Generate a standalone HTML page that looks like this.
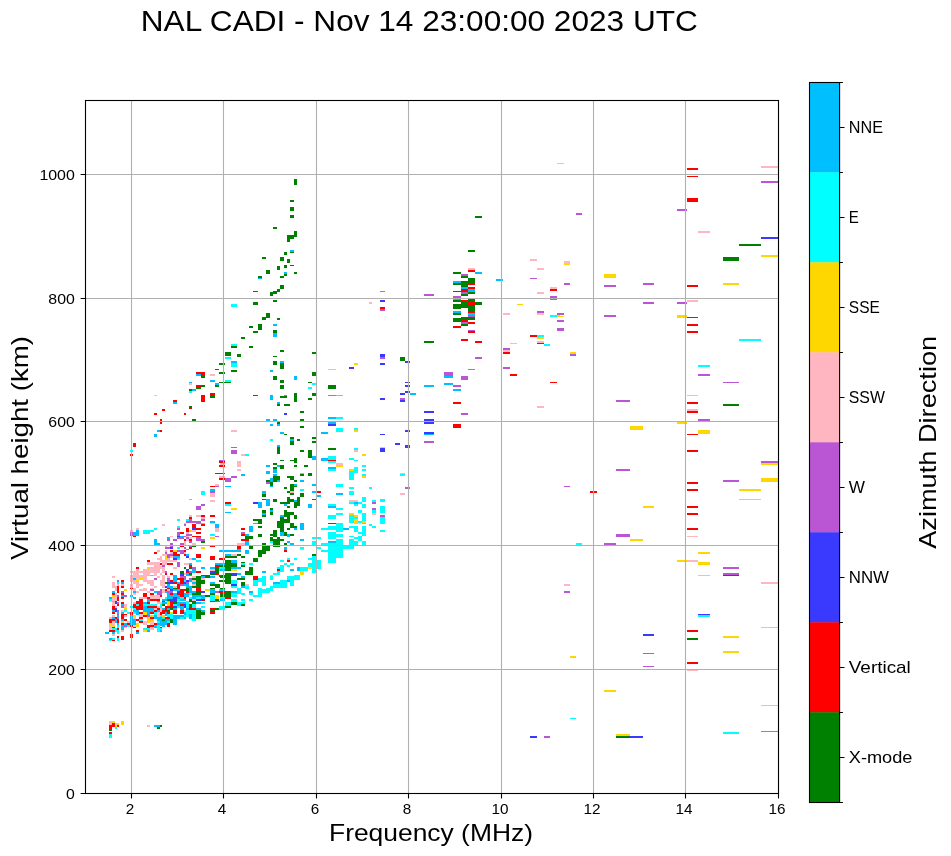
<!DOCTYPE html>
<html><head><meta charset="utf-8"><title>NAL CADI ionogram</title>
<style>
html,body{margin:0;padding:0;background:#fff;}
body{width:951px;height:856px;overflow:hidden;}
svg{display:block;will-change:transform;}
text{font-family:"Liberation Sans",sans-serif;fill:#000;}
</style></head><body>
<svg width="951" height="856" viewBox="0 0 951 856">
<rect x="0" y="0" width="951" height="856" fill="#fff"/>
<g shape-rendering="crispEdges">
<path fill="#00ffff" d="M231 304h6v3h-6zM550 315h7v2h-7zM537 335h7v2h-7zM739 339h22v2h-22zM231 344h6v2h-6zM544 344h6v2h-6zM225 357h6v2h-6zM231 363h6v4h-6zM698 365h12v2h-12zM225 380h6v2h-6zM312 383h4v2h-4zM308 387h4v2h-4zM189 391h3v2h-3zM336 395h7v1h-7zM336 417h7v2h-7zM354 428h4v2h-4zM336 428h7v4h-7zM270 439h3v2h-3zM354 448h4v2h-4zM130 450h3v2h-3zM245 454h4v2h-4zM328 456h8v4h-8zM349 458h5v2h-5zM354 460h4v1h-4zM328 461h8v2h-8zM362 465h4v2h-4zM354 467h4v4h-4zM328 469h8v2h-8zM362 469h4v2h-4zM349 471h9v2h-9zM300 473h4v1h-4zM362 474h4v2h-4zM400 474h5v2h-5zM349 473h5v7h-5zM336 484h7v3h-7zM369 487h3v2h-3zM349 487h5v2h-5zM300 489h4v2h-4zM201 491h4v4h-4zM349 491h5v4h-5zM189 499h3v1h-3zM362 497h4v5h-4zM380 499h5v3h-5zM372 500h4v2h-4zM358 502h4v2h-4zM349 502h5v2h-5zM328 504h8v2h-8zM354 504h4v2h-4zM225 504h6v2h-6zM362 504h4v4h-4zM336 508h7v2h-7zM380 506h5v7h-5zM372 510h4v3h-4zM358 510h4v3h-4zM336 513h7v2h-7zM349 515h5v2h-5zM328 515h8v4h-8zM349 517h9v2h-9zM362 513h4v8h-4zM177 519h3v2h-3zM186 519h3v2h-3zM349 519h5v4h-5zM358 521h4v2h-4zM380 517h5v7h-5zM201 523h4v1h-4zM362 523h4v1h-4zM336 523h7v3h-7zM369 524h3v2h-3zM372 526h4v2h-4zM328 526h15v2h-15zM177 526h3v2h-3zM349 526h9v2h-9zM321 528h22v2h-22zM154 528h3v2h-3zM362 526h4v6h-4zM354 528h4v4h-4zM380 530h5v2h-5zM336 530h7v2h-7zM143 530h11v2h-11zM328 532h8v2h-8zM358 532h8v2h-8zM143 532h7v2h-7zM210 534h5v2h-5zM362 534h4v2h-4zM328 534h15v3h-15zM349 536h5v1h-5zM358 536h4v1h-4zM328 537h8v2h-8zM312 537h4v2h-4zM354 537h8v2h-8zM317 537h4v2h-4zM358 539h4v2h-4zM349 539h5v2h-5zM336 539h7v4h-7zM270 541h3v2h-3zM312 541h4v4h-4zM362 541h4v4h-4zM349 541h9v4h-9zM321 543h22v2h-22zM576 543h6v2h-6zM328 546h26v3h-26zM177 547h3v2h-3zM300 547h4v2h-4zM317 547h4v2h-4zM328 549h15v1h-15zM321 550h22v2h-22zM328 552h15v6h-15zM312 556h4v2h-4zM308 558h8v2h-8zM177 558h3v2h-3zM287 558h3v2h-3zM294 558h3v2h-3zM196 560h5v2h-5zM280 560h4v2h-4zM328 558h8v5h-8zM312 560h4v3h-4zM249 563h4v2h-4zM241 563h4v2h-4zM290 563h4v2h-4zM284 563h3v2h-3zM308 563h8v4h-8zM280 565h4v2h-4zM287 565h3v2h-3zM317 560h4v9h-4zM277 567h7v2h-7zM219 567h6v2h-6zM300 567h8v4h-8zM219 569h1v2h-1zM280 569h4v2h-4zM277 571h7v1h-7zM312 567h4v6h-4zM277 572h3v1h-3zM273 573h7v2h-7zM150 575h4v1h-4zM294 575h6v1h-6zM262 576h4v2h-4zM270 576h3v4h-3zM287 576h13v4h-13zM258 578h8v2h-8zM253 580h13v2h-13zM184 580h2v2h-2zM280 580h7v4h-7zM231 580h6v4h-6zM117 582h2v2h-2zM290 580h4v6h-4zM262 582h4v4h-4zM253 582h5v4h-5zM273 584h14v2h-14zM270 586h17v2h-17zM231 586h6v2h-6zM245 586h4v3h-4zM258 588h4v1h-4zM266 588h7v1h-7zM258 589h15v2h-15zM219 589h1v2h-1zM237 588h4v5h-4zM258 591h12v2h-12zM231 593h14v1h-14zM189 593h3v2h-3zM249 593h4v2h-4zM258 593h4v2h-4zM241 594h4v1h-4zM231 594h6v3h-6zM253 595h9v2h-9zM196 597h5v2h-5zM189 597h3v2h-3zM165 597h2v2h-2zM220 597h5v2h-5zM180 597h4v2h-4zM210 595h5v6h-5zM249 599h4v2h-4zM109 599h3v2h-3zM241 599h4v2h-4zM177 599h3v2h-3zM231 599h6v3h-6zM112 601h3v1h-3zM167 601h3v1h-3zM237 602h8v2h-8zM201 602h4v2h-4zM225 602h6v4h-6zM136 604h3v2h-3zM237 604h4v2h-4zM143 604h14v2h-14zM173 604h4v2h-4zM186 601h3v7h-3zM160 604h2v4h-2zM192 604h4v4h-4zM130 606h3v2h-3zM177 606h3v2h-3zM201 606h4v2h-4zM219 606h6v4h-6zM133 608h3v2h-3zM124 610h3v2h-3zM186 610h10v4h-10zM127 612h3v2h-3zM133 612h3v2h-3zM154 612h3v3h-3zM186 614h3v1h-3zM167 614h6v3h-6zM160 615h2v2h-2zM698 615h12v2h-12zM184 615h5v2h-5zM162 617h3v2h-3zM180 617h4v2h-4zM170 617h3v2h-3zM192 614h4v7h-4zM139 619h4v2h-4zM157 621h3v2h-3zM167 621h3v2h-3zM127 625h3v2h-3zM117 625h2v3h-2zM157 625h3v3h-3zM157 628h5v2h-5zM143 628h7v2h-7zM112 628h5v2h-5zM157 630h3v2h-3zM115 630h4v2h-4zM117 632h2v2h-2zM112 638h3v2h-3zM117 638h2v3h-2zM109 640h3v1h-3zM570 718h6v1h-6zM115 727h2v2h-2zM723 732h16v2h-16zM109 734h3v4h-3z"/>
<path fill="#00bfff" d="M290 250h4v2h-4zM284 272h3v2h-3zM475 272h7v2h-7zM258 278h4v1h-4zM496 279h7v2h-7zM453 281h8v2h-8zM461 287h7v2h-7zM468 289h7v3h-7zM380 291h5v1h-5zM453 299h8v1h-8zM453 311h8v2h-8zM468 313h7v2h-7zM273 324h4v2h-4zM273 333h4v4h-4zM280 361h4v2h-4zM231 361h6v2h-6zM468 369h7v1h-7zM270 370h3v2h-3zM196 374h5v2h-5zM444 376h9v2h-9zM294 376h3v4h-3zM210 380h5v2h-5zM189 382h3v1h-3zM215 383h4v2h-4zM444 383h9v2h-9zM424 385h10v2h-10zM192 389h4v2h-4zM453 389h8v2h-8zM410 393h6v2h-6zM284 395h3v1h-3zM328 395h8v1h-8zM270 395h3v5h-3zM277 402h3v2h-3zM173 402h4v2h-4zM328 417h8v2h-8zM266 419h4v2h-4zM273 419h4v2h-4zM328 422h8v2h-8zM277 424h3v2h-3zM270 424h3v2h-3zM157 430h3v2h-3zM280 432h4v2h-4zM321 432h7v2h-7zM424 434h10v1h-10zM154 434h3v3h-3zM290 439h4v2h-4zM277 445h3v2h-3zM312 456h4v4h-4zM321 458h7v3h-7zM277 465h3v2h-3zM266 465h4v2h-4zM328 467h8v2h-8zM273 469h4v4h-4zM266 471h4v3h-4zM273 474h4v2h-4zM241 474h4v2h-4zM270 478h3v4h-3zM277 480h3v2h-3zM300 480h4v2h-4zM312 484h4v2h-4zM294 484h3v2h-3zM270 486h3v1h-3zM225 486h6v1h-6zM210 489h5v2h-5zM312 491h4v2h-4zM262 491h4v3h-4zM336 493h7v2h-7zM317 495h4v2h-4zM294 500h3v2h-3zM354 502h4v2h-4zM266 499h4v7h-4zM284 504h3v2h-3zM258 502h4v6h-4zM308 504h4v4h-4zM328 506h8v2h-8zM270 510h3v2h-3zM225 512h6v1h-6zM262 513h4v2h-4zM280 515h4v2h-4zM210 521h5v2h-5zM196 523h5v1h-5zM253 523h5v1h-5zM215 524h4v4h-4zM300 523h4v7h-4zM294 528h3v2h-3zM343 528h6v2h-6zM249 526h4v6h-4zM136 530h3v2h-3zM280 532h4v4h-4zM133 532h6v4h-6zM245 534h4v2h-4zM287 534h3v3h-3zM180 536h4v1h-4zM167 537h3v2h-3zM300 539h4v2h-4zM154 539h3v4h-3zM328 541h8v2h-8zM287 541h3v2h-3zM245 541h4v4h-4zM154 543h6v2h-6zM290 543h4v2h-4zM284 547h3v3h-3zM186 549h3v1h-3zM237 549h4v1h-4zM219 550h22v2h-22zM245 550h4v4h-4zM186 554h3v2h-3zM225 554h6v2h-6zM173 556h7v2h-7zM192 558h4v2h-4zM231 560h6v3h-6zM189 563h3v2h-3zM215 563h10v2h-10zM201 567h4v2h-4zM210 567h5v2h-5zM231 567h10v2h-10zM297 567h3v4h-3zM290 569h4v2h-4zM220 569h5v2h-5zM192 569h4v4h-4zM262 571h4v2h-4zM237 573h4v2h-4zM186 573h3v3h-3zM201 576h4v2h-4zM210 576h5v2h-5zM241 576h4v2h-4zM133 578h3v2h-3zM173 575h4v7h-4zM189 580h3v2h-3zM287 580h3v2h-3zM177 582h3v2h-3zM192 582h4v2h-4zM210 582h5v2h-5zM273 582h7v2h-7zM121 582h3v2h-3zM184 584h5v2h-5zM167 584h3v2h-3zM241 586h4v2h-4zM167 586h6v2h-6zM186 586h6v2h-6zM170 588h3v1h-3zM189 588h3v3h-3zM173 589h7v2h-7zM220 589h5v2h-5zM210 589h5v4h-5zM154 591h3v2h-3zM133 591h3v2h-3zM112 591h3v2h-3zM231 591h6v2h-6zM189 591h7v2h-7zM165 591h2v2h-2zM249 591h4v2h-4zM173 593h4v2h-4zM167 593h3v2h-3zM184 593h5v4h-5zM192 595h13v2h-13zM167 595h13v2h-13zM121 595h3v2h-3zM130 595h3v2h-3zM109 597h3v2h-3zM177 597h3v2h-3zM192 597h4v2h-4zM133 597h3v2h-3zM201 597h4v2h-4zM167 597h6v2h-6zM180 599h6v2h-6zM162 599h5v2h-5zM220 599h5v2h-5zM147 599h3v3h-3zM157 601h3v1h-3zM177 602h9v2h-9zM196 602h5v2h-5zM143 602h4v2h-4zM162 602h5v2h-5zM177 604h3v2h-3zM121 604h3v2h-3zM143 606h4v2h-4zM180 606h4v4h-4zM173 608h4v2h-4zM196 608h5v2h-5zM162 608h3v2h-3zM186 608h3v2h-3zM167 608h3v2h-3zM143 608h11v4h-11zM112 610h3v2h-3zM201 610h4v2h-4zM157 610h3v2h-3zM133 610h6v2h-6zM117 612h2v2h-2zM121 612h3v2h-3zM147 612h3v3h-3zM136 612h3v3h-3zM184 612h2v3h-2zM165 612h2v4h-2zM154 615h3v2h-3zM117 615h2v2h-2zM173 615h11v2h-11zM189 614h3v5h-3zM130 615h3v4h-3zM173 617h7v2h-7zM112 617h3v2h-3zM184 617h2v2h-2zM154 617h8v2h-8zM165 619h5v2h-5zM121 619h3v2h-3zM157 619h5v2h-5zM115 619h2v4h-2zM160 621h7v2h-7zM173 619h4v6h-4zM130 619h6v6h-6zM117 623h2v2h-2zM157 623h10v2h-10zM124 623h3v2h-3zM160 625h5v1h-5zM162 626h3v1h-3zM154 625h3v3h-3zM121 625h3v5h-3zM160 630h2v2h-2zM147 630h3v2h-3zM112 632h3v2h-3zM136 632h3v2h-3zM105 632h4v2h-4zM109 638h3v2h-3zM154 725h6v2h-6zM761 731h17v1h-17z"/>
<path fill="#ffd700" d="M761 255h17v2h-17zM564 263h6v2h-6zM604 274h12v4h-12zM723 283h16v2h-16zM517 304h6v1h-6zM557 315h3v1h-3zM557 316h7v1h-7zM677 315h10v3h-10zM537 337h7v2h-7zM570 352h6v2h-6zM354 363h4v2h-4zM328 369h8v1h-8zM677 422h10v2h-10zM630 426h13v4h-13zM354 430h4v2h-4zM698 430h12v4h-12zM380 447h5v1h-5zM362 454h4v2h-4zM761 463h17v2h-17zM336 465h7v2h-7zM349 469h5v2h-5zM400 473h5v1h-5zM362 476h4v2h-4zM761 478h17v4h-17zM739 489h22v2h-22zM739 499h22v1h-22zM643 506h11v2h-11zM231 508h6v2h-6zM349 513h5v2h-5zM354 515h4v2h-4zM362 521h4v2h-4zM354 519h4v5h-4zM189 530h3v2h-3zM210 537h5v2h-5zM630 539h13v2h-13zM201 547h4v2h-4zM300 549h4v1h-4zM173 550h4v2h-4zM698 552h12v2h-12zM165 556h2v4h-2zM677 560h10v2h-10zM698 562h12v3h-12zM308 567h4v2h-4zM147 567h3v2h-3zM231 569h6v2h-6zM300 571h4v4h-4zM698 575h12v1h-12zM147 575h3v1h-3zM270 575h3v1h-3zM139 578h4v2h-4zM136 580h3v2h-3zM205 589h5v2h-5zM124 589h3v2h-3zM112 595h3v2h-3zM215 595h4v4h-4zM177 601h3v1h-3zM167 602h3v4h-3zM124 608h3v2h-3zM170 612h3v2h-3zM143 612h4v3h-4zM133 615h3v2h-3zM150 615h4v2h-4zM162 615h3v2h-3zM147 617h3v2h-3zM147 619h7v2h-7zM147 621h3v2h-3zM121 621h3v2h-3zM109 623h3v2h-3zM136 623h3v4h-3zM112 625h3v2h-3zM124 627h3v1h-3zM761 627h17v1h-17zM109 627h3v1h-3zM143 630h4v2h-4zM723 636h16v2h-16zM723 651h16v2h-16zM570 656h6v2h-6zM604 690h12v2h-12zM761 705h17v1h-17zM112 721h3v2h-3zM121 721h3v4h-3zM117 723h2v2h-2zM115 725h2v2h-2zM616 734h14v2h-14z"/>
<path fill="#ffb6c1" d="M557 163h7v1h-7zM761 166h17v2h-17zM698 231h12v2h-12zM530 259h7v2h-7zM564 261h6v2h-6zM468 268h7v2h-7zM537 268h7v2h-7zM550 287h7v2h-7zM537 292h7v2h-7zM687 300h11v2h-11zM369 302h3v2h-3zM537 313h7v2h-7zM503 313h7v2h-7zM537 341h7v2h-7zM510 343h7v1h-7zM503 350h7v2h-7zM210 374h5v2h-5zM189 383h3v2h-3zM687 395h11v1h-11zM154 395h3v1h-3zM537 406h7v2h-7zM687 409h11v2h-11zM231 430h6v2h-6zM354 450h4v2h-4zM241 454h4v2h-4zM220 463h5v2h-5zM336 463h7v2h-7zM237 461h4v6h-4zM237 469h4v2h-4zM219 476h6v2h-6zM215 484h4v2h-4zM290 491h4v2h-4zM400 493h5v2h-5zM210 493h5v4h-5zM349 500h9v2h-9zM210 500h5v2h-5zM372 513h4v2h-4zM196 515h5v2h-5zM189 515h3v2h-3zM201 517h4v2h-4zM210 523h5v1h-5zM184 523h2v1h-2zM162 524h3v2h-3zM136 528h3v2h-3zM215 528h4v4h-4zM130 530h3v2h-3zM192 530h4v2h-4zM186 532h3v2h-3zM687 536h11v1h-11zM186 536h3v1h-3zM170 536h3v1h-3zM189 537h3v2h-3zM186 539h3v2h-3zM184 541h2v4h-2zM192 543h4v2h-4zM237 543h8v2h-8zM165 546h2v1h-2zM165 550h2v2h-2zM157 550h3v2h-3zM184 552h2v2h-2zM170 552h3v2h-3zM231 554h6v2h-6zM162 554h5v2h-5zM160 556h2v2h-2zM170 556h3v2h-3zM157 558h5v2h-5zM189 558h3v2h-3zM167 558h3v2h-3zM687 560h11v2h-11zM160 560h17v2h-17zM147 562h13v3h-13zM162 562h5v3h-5zM184 563h5v2h-5zM154 565h6v1h-6zM154 566h8v1h-8zM150 567h15v2h-15zM173 567h4v2h-4zM210 569h5v2h-5zM143 569h17v2h-17zM136 569h3v2h-3zM162 569h3v4h-3zM130 571h30v2h-30zM160 573h2v2h-2zM133 573h6v2h-6zM143 573h7v2h-7zM184 573h2v2h-2zM154 573h3v3h-3zM130 575h17v3h-17zM112 576h3v2h-3zM157 576h3v2h-3zM192 576h4v2h-4zM167 576h3v2h-3zM162 575h3v5h-3zM130 578h3v2h-3zM143 578h4v2h-4zM201 578h4v2h-4zM136 578h3v2h-3zM192 580h4v2h-4zM143 580h11v2h-11zM130 580h6v2h-6zM133 582h6v2h-6zM761 582h17v2h-17zM147 582h7v2h-7zM160 580h5v6h-5zM112 582h3v4h-3zM121 584h3v2h-3zM245 584h4v2h-4zM136 584h7v2h-7zM564 584h6v2h-6zM192 584h4v2h-4zM117 584h2v2h-2zM150 584h4v2h-4zM130 584h3v4h-3zM112 586h5v2h-5zM162 586h3v2h-3zM154 586h3v2h-3zM173 586h4v2h-4zM136 586h3v2h-3zM143 588h4v1h-4zM150 588h4v1h-4zM115 588h2v3h-2zM133 588h3v3h-3zM167 589h3v2h-3zM139 589h8v2h-8zM162 589h3v4h-3zM147 591h3v2h-3zM136 591h3v2h-3zM133 593h3v2h-3zM115 593h2v4h-2zM150 595h10v4h-10zM139 597h8v2h-8zM112 597h5v4h-5zM192 599h4v2h-4zM109 601h3v1h-3zM157 602h5v2h-5zM133 602h3v2h-3zM112 602h3v4h-3zM124 604h3v4h-3zM115 606h2v2h-2zM157 606h3v2h-3zM154 608h3v2h-3zM160 608h2v4h-2zM121 610h3v2h-3zM184 610h2v2h-2zM157 612h3v5h-3zM139 614h4v3h-4zM124 615h3v2h-3zM112 615h3v2h-3zM109 617h3v2h-3zM133 617h3v2h-3zM127 621h3v2h-3zM112 621h3v4h-3zM143 621h4v4h-4zM150 621h4v4h-4zM109 625h3v2h-3zM133 625h3v2h-3zM150 627h4v3h-4zM109 628h3v2h-3zM121 630h3v2h-3zM112 634h3v2h-3zM687 670h11v1h-11zM109 721h3v4h-3zM115 723h2v2h-2zM147 725h3v2h-3z"/>
<path fill="#ba55d3" d="M761 181h17v2h-17zM677 209h10v2h-10zM576 213h6v2h-6zM461 274h7v2h-7zM530 278h7v1h-7zM643 283h11v2h-11zM564 283h6v2h-6zM604 285h12v2h-12zM461 292h7v2h-7zM424 294h10v2h-10zM453 296h8v2h-8zM453 298h7v1h-7zM550 296h7v4h-7zM677 302h10v2h-10zM643 302h11v2h-11zM380 309h5v2h-5zM537 311h7v2h-7zM557 313h7v2h-7zM468 315h7v2h-7zM604 315h12v2h-12zM557 320h7v2h-7zM461 322h7v2h-7zM557 328h7v3h-7zM468 330h7v1h-7zM503 348h7v2h-7zM570 354h6v2h-6zM475 357h7v2h-7zM380 357h5v2h-5zM503 367h7v2h-7zM444 372h9v4h-9zM698 374h12v2h-12zM461 376h7v4h-7zM723 382h16v1h-16zM453 385h8v2h-8zM400 398h5v2h-5zM616 400h14v2h-14zM461 413h7v2h-7zM698 419h12v2h-12zM424 441h10v2h-10zM231 447h6v1h-6zM231 450h6v4h-6zM219 460h6v1h-6zM761 461h17v2h-17zM616 469h14v2h-14zM231 476h6v2h-6zM225 478h6v4h-6zM723 480h16v2h-16zM266 482h4v2h-4zM215 486h4v1h-4zM564 486h6v1h-6zM405 487h5v2h-5zM210 491h5v2h-5zM372 502h4v2h-4zM201 504h4v2h-4zM196 506h5v4h-5zM372 508h4v2h-4zM380 515h5v2h-5zM189 519h3v2h-3zM201 519h4v2h-4zM186 521h15v2h-15zM184 524h2v2h-2zM177 528h3v2h-3zM241 532h4v2h-4zM130 532h3v4h-3zM177 532h3v4h-3zM186 534h6v2h-6zM616 534h14v3h-14zM215 536h4v1h-4zM184 536h2v1h-2zM177 537h7v2h-7zM186 537h3v2h-3zM196 537h5v2h-5zM173 539h4v2h-4zM167 539h3v2h-3zM196 539h9v2h-9zM189 541h3v2h-3zM170 543h3v2h-3zM180 543h4v2h-4zM604 543h12v2h-12zM189 546h3v1h-3zM170 546h3v1h-3zM184 547h2v2h-2zM165 547h5v2h-5zM177 550h7v2h-7zM180 552h4v2h-4zM165 552h2v2h-2zM167 554h6v2h-6zM167 556h3v2h-3zM177 562h3v5h-3zM162 565h3v2h-3zM192 567h4v2h-4zM723 567h16v2h-16zM189 571h3v2h-3zM165 571h2v2h-2zM723 573h16v2h-16zM189 575h3v1h-3zM180 576h6v2h-6zM154 578h3v2h-3zM184 578h2v2h-2zM189 578h3v2h-3zM167 578h3v4h-3zM117 580h2v2h-2zM186 582h3v2h-3zM180 584h4v2h-4zM150 589h4v2h-4zM160 589h2v2h-2zM564 591h6v2h-6zM215 591h4v2h-4zM121 591h3v2h-3zM167 591h6v2h-6zM157 591h5v4h-5zM124 595h3v2h-3zM117 595h2v2h-2zM215 601h5v1h-5zM117 602h2v2h-2zM121 606h3v2h-3zM117 610h2v2h-2zM117 614h2v1h-2zM147 615h3v2h-3zM117 617h2v2h-2zM124 625h3v2h-3zM643 653h11v1h-11zM643 666h11v1h-11zM544 736h6v2h-6z"/>
<path fill="#3a3aff" d="M761 237h17v2h-17zM380 300h5v2h-5zM380 354h5v3h-5zM405 361h5v2h-5zM380 363h5v2h-5zM349 367h5v2h-5zM405 382h5v1h-5zM405 385h5v2h-5zM405 391h5v2h-5zM400 393h5v2h-5zM380 398h5v2h-5zM400 400h5v2h-5zM424 411h10v2h-10zM284 413h3v2h-3zM424 419h10v5h-10zM328 424h8v2h-8zM405 430h5v2h-5zM424 432h10v2h-10zM380 434h5v1h-5zM395 443h5v2h-5zM405 445h5v3h-5zM380 448h5v4h-5zM253 502h5v2h-5zM192 528h4v2h-4zM177 536h3v1h-3zM170 547h3v2h-3zM186 556h3v2h-3zM173 558h4v2h-4zM186 569h3v2h-3zM210 571h5v2h-5zM231 573h6v2h-6zM180 573h4v3h-4zM186 580h3v2h-3zM184 582h2v2h-2zM167 582h6v2h-6zM231 584h6v2h-6zM165 586h2v2h-2zM170 589h3v2h-3zM201 591h4v2h-4zM177 591h3v2h-3zM173 597h4v2h-4zM196 599h5v2h-5zM170 599h7v3h-7zM115 602h2v2h-2zM184 604h2v4h-2zM173 606h4v2h-4zM115 608h2v4h-2zM698 614h12v1h-12zM643 634h11v2h-11zM530 736h7v2h-7zM630 736h13v2h-13z"/>
<path fill="#ff0000" d="M687 168h11v2h-11zM687 176h11v1h-11zM687 198h11v4h-11zM468 270h7v2h-7zM468 283h7v2h-7zM687 285h11v2h-11zM468 287h7v2h-7zM461 289h7v2h-7zM550 289h7v2h-7zM461 300h7v2h-7zM468 302h7v3h-7zM380 307h5v2h-5zM468 311h7v2h-7zM687 317h11v1h-11zM461 320h7v2h-7zM468 322h7v2h-7zM687 324h11v2h-11zM453 326h8v2h-8zM687 331h11v2h-11zM468 331h7v2h-7zM530 335h7v2h-7zM461 339h7v2h-7zM475 341h7v2h-7zM537 343h7v1h-7zM503 352h7v2h-7zM196 372h9v2h-9zM201 374h4v2h-4zM510 374h7v2h-7zM550 382h7v1h-7zM196 385h5v2h-5zM210 393h5v3h-5zM201 395h4v7h-4zM173 400h4v2h-4zM453 402h8v2h-8zM687 402h11v2h-11zM189 408h3v1h-3zM162 409h3v2h-3zM687 411h11v2h-11zM184 413h2v2h-2zM154 413h3v2h-3zM160 419h2v5h-2zM453 424h8v4h-8zM160 430h2v2h-2zM687 434h11v1h-11zM133 443h3v4h-3zM687 450h11v2h-11zM130 454h3v2h-3zM328 460h8v1h-8zM219 461h6v2h-6zM219 465h6v2h-6zM215 473h10v1h-10zM219 478h6v2h-6zM687 482h11v2h-11zM210 486h5v1h-5zM687 489h11v2h-11zM317 491h4v2h-4zM590 491h7v2h-7zM225 502h6v2h-6zM687 506h11v2h-11zM687 513h11v2h-11zM201 515h4v2h-4zM210 515h5v2h-5zM189 517h3v2h-3zM328 523h8v1h-8zM201 524h4v2h-4zM192 524h4v4h-4zM196 528h5v2h-5zM241 528h4v2h-4zM687 528h11v2h-11zM186 528h3v4h-3zM196 532h5v2h-5zM180 532h4v2h-4zM241 534h4v2h-4zM192 536h9v1h-9zM133 536h3v1h-3zM184 539h2v2h-2zM241 539h8v2h-8zM189 539h3v2h-3zM210 546h5v1h-5zM180 546h4v1h-4zM237 546h4v3h-4zM189 547h3v2h-3zM170 550h3v2h-3zM184 550h2v2h-2zM284 550h3v2h-3zM154 552h3v2h-3zM173 552h4v2h-4zM184 554h2v2h-2zM173 554h7v2h-7zM196 554h5v4h-5zM210 556h5v4h-5zM219 558h6v2h-6zM147 560h3v2h-3zM287 560h3v2h-3zM167 563h6v2h-6zM160 563h2v2h-2zM189 565h3v2h-3zM215 565h4v2h-4zM136 567h3v2h-3zM277 569h3v2h-3zM196 571h5v2h-5zM186 571h3v2h-3zM170 573h3v2h-3zM165 573h2v2h-2zM215 573h4v2h-4zM201 575h4v1h-4zM723 575h16v1h-16zM253 576h5v4h-5zM177 578h7v2h-7zM170 580h3v2h-3zM121 580h3v2h-3zM180 580h4v4h-4zM173 582h4v2h-4zM121 586h3v2h-3zM177 584h3v5h-3zM130 588h3v1h-3zM167 588h3v1h-3zM196 588h5v3h-5zM180 589h6v2h-6zM165 589h2v2h-2zM117 586h2v7h-2zM186 591h3v2h-3zM219 591h6v2h-6zM180 591h4v2h-4zM170 593h3v2h-3zM121 593h3v2h-3zM177 593h7v2h-7zM112 593h3v2h-3zM150 593h4v2h-4zM143 593h4v4h-4zM160 595h2v2h-2zM180 595h4v2h-4zM184 597h2v2h-2zM121 597h3v2h-3zM225 597h6v2h-6zM147 597h3v2h-3zM117 597h2v4h-2zM150 599h10v2h-10zM139 599h4v2h-4zM201 599h4v2h-4zM162 601h3v1h-3zM115 601h2v1h-2zM210 601h5v1h-5zM136 601h7v3h-7zM121 602h3v2h-3zM147 602h3v2h-3zM170 602h3v4h-3zM139 604h4v2h-4zM117 604h2v2h-2zM133 604h3v2h-3zM180 604h4v2h-4zM147 606h10v2h-10zM133 606h10v2h-10zM165 606h8v2h-8zM112 606h3v4h-3zM189 608h7v2h-7zM165 608h2v2h-2zM136 608h7v2h-7zM157 608h3v2h-3zM210 608h5v2h-5zM162 610h5v2h-5zM154 610h3v2h-3zM173 610h4v4h-4zM180 610h4v4h-4zM167 612h3v2h-3zM139 612h4v2h-4zM160 612h5v2h-5zM112 612h3v2h-3zM210 612h5v2h-5zM150 612h4v2h-4zM130 612h3v3h-3zM121 614h6v1h-6zM160 614h2v1h-2zM143 615h4v2h-4zM121 615h3v4h-3zM165 617h5v2h-5zM115 617h2v2h-2zM139 617h4v2h-4zM150 617h4v2h-4zM136 619h3v2h-3zM109 619h6v2h-6zM124 619h3v2h-3zM117 619h2v4h-2zM109 621h3v2h-3zM139 621h4v2h-4zM127 623h3v2h-3zM121 623h3v2h-3zM154 623h3v2h-3zM167 623h3v4h-3zM147 625h7v2h-7zM130 625h3v2h-3zM147 627h3v1h-3zM112 627h3v1h-3zM160 627h2v1h-2zM133 627h3v1h-3zM117 628h2v2h-2zM136 630h3v2h-3zM687 630h11v2h-11zM109 630h6v2h-6zM130 634h3v4h-3zM117 636h2v2h-2zM121 636h3v4h-3zM112 640h3v1h-3zM687 662h11v2h-11zM112 723h3v2h-3zM109 725h6v2h-6zM117 725h2v2h-2zM109 727h3v2h-3zM109 732h3v2h-3z"/>
<path fill="#008000" d="M294 179h3v6h-3zM290 200h4v2h-4zM290 207h4v4h-4zM290 215h4v3h-4zM475 216h7v2h-7zM273 227h4v2h-4zM294 231h3v4h-3zM287 235h10v2h-10zM287 237h7v2h-7zM287 239h3v3h-3zM739 244h22v2h-22zM468 250h7v2h-7zM290 252h4v1h-4zM284 252h3v3h-3zM262 257h4v2h-4zM280 257h4v4h-4zM723 257h16v4h-16zM287 259h3v4h-3zM290 265h4v1h-4zM284 265h3v3h-3zM277 266h3v4h-3zM266 270h4v4h-4zM294 272h3v2h-3zM453 272h8v2h-8zM284 274h3v2h-3zM258 276h4v2h-4zM280 276h4v2h-4zM461 276h7v2h-7zM468 278h7v3h-7zM461 281h14v2h-14zM453 283h15v2h-15zM461 285h7v2h-7zM280 285h4v4h-4zM277 289h3v2h-3zM453 291h15v1h-15zM253 291h5v1h-5zM273 291h7v1h-7zM270 292h7v2h-7zM468 292h7v2h-7zM461 294h7v2h-7zM270 294h3v2h-3zM468 299h7v3h-7zM453 300h8v2h-8zM273 300h4v2h-4zM461 302h7v2h-7zM475 302h7v3h-7zM253 302h5v3h-5zM453 304h15v1h-15zM453 305h22v3h-22zM453 308h8v1h-8zM468 308h7v3h-7zM453 313h8v2h-8zM266 313h4v4h-4zM461 317h14v1h-14zM262 317h8v1h-8zM453 318h22v2h-22zM262 318h4v2h-4zM277 318h3v2h-3zM453 320h8v2h-8zM461 324h7v2h-7zM249 326h4v2h-4zM258 324h4v6h-4zM273 330h4v3h-4zM253 331h5v2h-5zM241 337h4v2h-4zM424 341h10v2h-10zM249 346h4v2h-4zM231 346h6v2h-6zM280 350h4v2h-4zM312 352h4v2h-4zM225 352h6v4h-6zM237 354h4v3h-4zM273 356h4v1h-4zM400 357h5v4h-5zM273 361h4v4h-4zM219 363h6v2h-6zM280 363h4v6h-4zM215 369h4v1h-4zM231 370h6v2h-6zM219 372h6v2h-6zM312 372h4v4h-4zM201 376h4v2h-4zM273 376h4v4h-4zM280 380h4v3h-4zM308 382h4v1h-4zM219 382h12v1h-12zM201 385h4v2h-4zM215 385h4v2h-4zM280 385h4v4h-4zM328 385h8v4h-8zM196 387h5v2h-5zM189 389h3v2h-3zM312 393h4v3h-4zM253 395h5v1h-5zM280 396h7v2h-7zM210 396h5v2h-5zM308 398h4v2h-4zM294 393h3v9h-3zM277 404h3v2h-3zM723 404h16v2h-16zM284 404h6v2h-6zM189 406h3v2h-3zM300 411h4v2h-4zM192 419h4v2h-4zM300 419h4v2h-4zM277 422h3v2h-3zM300 426h4v2h-4zM284 434h3v1h-3zM312 437h4v2h-4zM290 437h4v2h-4zM297 439h3v2h-3zM312 441h4v2h-4zM290 441h4v4h-4zM328 448h8v2h-8zM300 450h4v2h-4zM277 447h3v7h-3zM308 450h4v8h-4zM294 458h3v2h-3zM290 460h7v1h-7zM280 460h4v1h-4zM294 461h3v2h-3zM273 463h4v2h-4zM294 465h3v2h-3zM304 465h4v2h-4zM280 465h4v4h-4zM273 467h4v2h-4zM308 473h4v3h-4zM300 474h4v2h-4zM287 476h7v2h-7zM273 476h7v4h-7zM290 478h4v2h-4zM266 480h4v2h-4zM294 480h3v2h-3zM273 480h4v2h-4zM270 482h3v4h-3zM290 484h4v2h-4zM290 486h7v1h-7zM284 487h3v2h-3zM290 487h4v4h-4zM287 491h3v2h-3zM290 493h4v2h-4zM300 493h4v4h-4zM262 494h4v3h-4zM287 497h3v2h-3zM312 499h4v1h-4zM262 499h4v1h-4zM297 497h3v5h-3zM287 499h7v3h-7zM273 499h4v3h-4zM280 502h10v2h-10zM294 502h6v4h-6zM287 506h3v2h-3zM294 506h3v2h-3zM270 508h3v2h-3zM284 510h3v2h-3zM262 510h4v3h-4zM284 512h10v3h-10zM270 512h3v3h-3zM262 515h4v2h-4zM284 515h6v2h-6zM294 515h3v4h-3zM287 517h3v2h-3zM280 517h4v2h-4zM280 519h10v2h-10zM253 519h9v2h-9zM277 521h13v2h-13zM258 521h4v3h-4zM290 523h4v3h-4zM277 523h7v5h-7zM290 526h7v2h-7zM258 526h4v2h-4zM287 528h3v2h-3zM280 528h4v4h-4zM273 530h4v4h-4zM284 532h3v4h-3zM270 534h7v2h-7zM290 534h4v2h-4zM258 534h4v3h-4zM273 536h4v1h-4zM245 536h8v3h-8zM277 537h3v2h-3zM270 537h3v2h-3zM270 539h14v2h-14zM201 541h4v2h-4zM262 543h4v2h-4zM284 543h3v3h-3zM273 541h7v6h-7zM192 546h4v1h-4zM249 546h4v3h-4zM262 546h8v4h-8zM258 550h12v1h-12zM258 551h8v3h-8zM312 554h4v2h-4zM237 554h4v2h-4zM258 554h4v3h-4zM225 556h12v2h-12zM241 556h4v2h-4zM253 558h5v4h-5zM225 560h6v3h-6zM241 562h4v1h-4zM225 563h12v2h-12zM219 565h18v2h-18zM241 565h4v2h-4zM184 567h2v2h-2zM189 567h3v2h-3zM225 567h6v4h-6zM249 567h4v4h-4zM215 567h4v6h-4zM180 571h4v2h-4zM245 571h8v4h-8zM210 573h5v2h-5zM225 573h6v2h-6zM189 573h3v2h-3zM219 575h18v1h-18zM219 576h12v1h-12zM205 575h5v3h-5zM196 576h5v2h-5zM220 577h11v1h-11zM237 578h8v2h-8zM225 578h6v2h-6zM192 578h9v2h-9zM219 580h12v2h-12zM196 580h9v4h-9zM225 582h6v2h-6zM165 582h2v2h-2zM241 582h4v4h-4zM210 584h10v2h-10zM196 584h5v2h-5zM215 586h5v2h-5zM192 586h9v2h-9zM220 588h5v1h-5zM210 588h5v1h-5zM173 588h4v1h-4zM186 588h3v3h-3zM225 591h6v2h-6zM196 591h5v2h-5zM210 593h5v2h-5zM192 593h9v2h-9zM220 593h11v4h-11zM205 595h5v2h-5zM215 599h4v2h-4zM189 599h3v2h-3zM167 599h3v2h-3zM189 601h7v1h-7zM192 602h4v2h-4zM173 602h4v2h-4zM231 602h6v3h-6zM241 604h4v2h-4zM162 604h3v2h-3zM189 604h3v4h-3zM225 606h6v2h-6zM215 608h4v2h-4zM170 608h3v2h-3zM210 610h5v2h-5zM196 610h5v2h-5zM167 610h3v2h-3zM196 612h9v3h-9zM196 615h5v4h-5zM162 619h3v2h-3zM170 619h3v4h-3zM687 638h11v2h-11zM160 725h2v2h-2zM157 727h3v2h-3zM109 729h3v2h-3zM616 736h14v2h-14z"/>
</g>
<path d="M131.5 100.5V793.5M223.5 100.5V793.5M316.5 100.5V793.5M408.5 100.5V793.5M501.5 100.5V793.5M593.5 100.5V793.5M685.5 100.5V793.5M778.5 100.5V793.5M85.5 793.5H778.5M85.5 669.5H778.5M85.5 545.5H778.5M85.5 421.5H778.5M85.5 298.5H778.5M85.5 174.5H778.5" stroke="#b0b0b0" stroke-width="1.1" fill="none"/>
<path d="M131.5 793.5v4.9M223.5 793.5v4.9M316.5 793.5v4.9M408.5 793.5v4.9M501.5 793.5v4.9M593.5 793.5v4.9M685.5 793.5v4.9M778.5 793.5v4.9M85.5 793.5h-4.9M85.5 669.5h-4.9M85.5 545.5h-4.9M85.5 421.5h-4.9M85.5 298.5h-4.9M85.5 174.5h-4.9" stroke="#000" stroke-width="1.1" fill="none"/>
<rect x="85.5" y="100.5" width="693" height="693" fill="none" stroke="#000" stroke-width="1.1"/>
<rect x="809.5" y="82.3" width="30.1" height="90.4" fill="#00bfff"/>
<rect x="809.5" y="172.3" width="30.1" height="90.4" fill="#00ffff"/>
<rect x="809.5" y="262.3" width="30.1" height="90.4" fill="#ffd700"/>
<rect x="809.5" y="352.3" width="30.1" height="90.4" fill="#ffb6c1"/>
<rect x="809.5" y="442.3" width="30.1" height="90.4" fill="#ba55d3"/>
<rect x="809.5" y="532.3" width="30.1" height="90.4" fill="#3a3aff"/>
<rect x="809.5" y="622.3" width="30.1" height="90.4" fill="#ff0000"/>
<rect x="809.5" y="712.3" width="30.1" height="90.4" fill="#008000"/>
<path d="M839.6 82.5h3.3M839.6 172.5h3.3M839.6 262.5h3.3M839.6 352.5h3.3M839.6 442.5h3.3M839.6 532.5h3.3M839.6 622.5h3.3M839.6 712.5h3.3M839.6 802.5h3.3M839.6 127.5h4.9M839.6 217.5h4.9M839.6 307.5h4.9M839.6 397.5h4.9M839.6 487.5h4.9M839.6 577.5h4.9M839.6 667.5h4.9M839.6 757.5h4.9" stroke="#000" stroke-width="1.1" fill="none"/>
<rect x="809.5" y="82.5" width="30.1" height="720" fill="none" stroke="#000" stroke-width="1.1"/>
<text x="140.8" y="31.2" font-size="28.6" textLength="557" lengthAdjust="spacingAndGlyphs">NAL CADI - Nov 14 23:00:00 2023 UTC</text>
<text x="329" y="840.6" font-size="24" textLength="204" lengthAdjust="spacingAndGlyphs">Frequency (MHz)</text>
<text transform="translate(28.3 560) rotate(-90)" font-size="24" textLength="224" lengthAdjust="spacingAndGlyphs">Virtual height (km)</text>
<text transform="translate(936.4 548.8) rotate(-90)" font-size="24" textLength="213" lengthAdjust="spacingAndGlyphs">Azimuth Direction</text>
<text x="130.1" y="814.3" font-size="14.2" text-anchor="middle" textLength="8.5" lengthAdjust="spacingAndGlyphs">2</text>
<text x="222.1" y="814.3" font-size="14.2" text-anchor="middle" textLength="8.5" lengthAdjust="spacingAndGlyphs">4</text>
<text x="315.1" y="814.3" font-size="14.2" text-anchor="middle" textLength="8.5" lengthAdjust="spacingAndGlyphs">6</text>
<text x="407.1" y="814.3" font-size="14.2" text-anchor="middle" textLength="8.5" lengthAdjust="spacingAndGlyphs">8</text>
<text x="500.1" y="814.3" font-size="14.2" text-anchor="middle" textLength="17" lengthAdjust="spacingAndGlyphs">10</text>
<text x="592.1" y="814.3" font-size="14.2" text-anchor="middle" textLength="17" lengthAdjust="spacingAndGlyphs">12</text>
<text x="684.1" y="814.3" font-size="14.2" text-anchor="middle" textLength="17" lengthAdjust="spacingAndGlyphs">14</text>
<text x="777.1" y="814.3" font-size="14.2" text-anchor="middle" textLength="17" lengthAdjust="spacingAndGlyphs">16</text>
<text x="74.8" y="798.6" font-size="14.2" text-anchor="end" textLength="8.8" lengthAdjust="spacingAndGlyphs">0</text>
<text x="74.8" y="674.6" font-size="14.2" text-anchor="end" textLength="26.5" lengthAdjust="spacingAndGlyphs">200</text>
<text x="74.8" y="550.6" font-size="14.2" text-anchor="end" textLength="26.5" lengthAdjust="spacingAndGlyphs">400</text>
<text x="74.8" y="426.6" font-size="14.2" text-anchor="end" textLength="26.5" lengthAdjust="spacingAndGlyphs">600</text>
<text x="74.8" y="303.6" font-size="14.2" text-anchor="end" textLength="26.5" lengthAdjust="spacingAndGlyphs">800</text>
<text x="74.8" y="179.6" font-size="14.2" text-anchor="end" textLength="35.4" lengthAdjust="spacingAndGlyphs">1000</text>
<text x="848.8" y="132.8" font-size="17" textLength="34.2" lengthAdjust="spacingAndGlyphs">NNE</text>
<text x="848.8" y="222.8" font-size="17" textLength="10.1" lengthAdjust="spacingAndGlyphs">E</text>
<text x="848.8" y="312.8" font-size="17" textLength="31" lengthAdjust="spacingAndGlyphs">SSE</text>
<text x="848.8" y="402.8" font-size="17" textLength="36.1" lengthAdjust="spacingAndGlyphs">SSW</text>
<text x="848.8" y="492.8" font-size="17" textLength="16.2" lengthAdjust="spacingAndGlyphs">W</text>
<text x="848.8" y="582.8" font-size="17" textLength="40.2" lengthAdjust="spacingAndGlyphs">NNW</text>
<text x="848.8" y="672.8" font-size="17" textLength="62" lengthAdjust="spacingAndGlyphs">Vertical</text>
<text x="848.8" y="762.8" font-size="17" textLength="63.6" lengthAdjust="spacingAndGlyphs">X-mode</text>
</svg>
</body></html>
